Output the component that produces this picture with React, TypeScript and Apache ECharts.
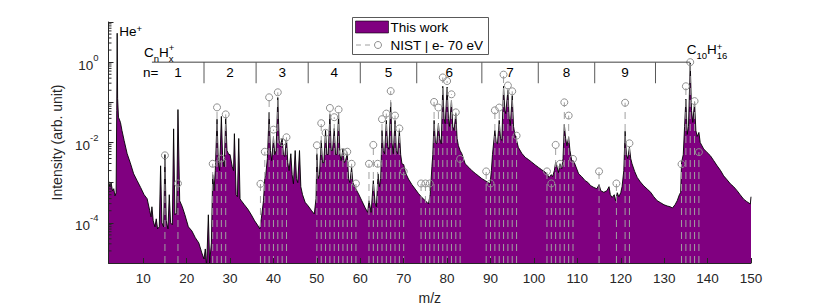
import React, { useEffect, useRef } from 'react';
import * as echarts from 'echarts';

const FONT = '"Liberation Sans", Arial, Helvetica, sans-serif';
const X_MIN = 2;
const X_MAX = 150;
const Y_MIN = 1e-5;
const Y_MAX = 10;

const spectrumLog10: [number, number][] = [
  [2.0,-2.95],[2.3,-3.1],[2.6,-3.0],[2.9,-3.2],[3.2,-3.15],[3.5,-3.33],[3.75,-3.25],[3.9,-1.2],[4.0,0.72],[4.1,-0.9],
  [4.3,-1.37],[4.76,-1.5],[5.1,-1.7],[5.6,-1.95],[6.3,-2.28],[7.0,-2.5],[7.8,-2.78],[8.6,-2.95],[9.4,-3.12],[10.2,-3.3],
  [10.9,-3.4],[11.5,-3.7],[11.8,-3.85],[12.0,-3.6],[12.3,-3.95],[12.7,-4.1],[13.0,-3.9],[13.3,-4.15],[13.7,-4.1],[14.0,-2.58],
  [14.3,-4.0],[14.7,-4.1],[15.0,-2.3],[15.3,-3.95],[15.7,-4.15],[16.0,-3.3],[16.3,-4.0],[16.7,-4.05],[17.0,-1.66],[17.3,-3.8],
  [17.7,-3.75],[18.0,-1.18],[18.4,-3.45],[19.0,-3.6],[19.6,-3.8],[20.4,-4.1],[21.2,-4.2],[22.0,-4.37],[22.8,-4.5],[23.5,-4.75],
  [24.0,-4.9],[24.3,-4.65],[24.6,-5.1],[25.0,-3.8],[25.3,-5.0],[25.7,-4.5],[26.0,-2.8],[26.3,-3.2],[26.6,-2.7],[27.0,-1.42],
  [27.3,-2.5],[27.6,-2.7],[28.0,-1.35],[28.3,-2.4],[28.65,-2.6],[29.0,-1.38],[29.3,-2.2],[29.7,-2.3],[30.0,-2.3],[30.5,-2.6],
  [30.8,-2.7],[31.0,-1.78],[31.4,-3.3],[31.7,-3.35],[32.0,-1.9],[32.3,-3.4],[32.6,-3.45],[33.3,-3.55],[34.1,-3.66],[34.9,-3.8],
  [35.66,-3.95],[36.3,-4.05],[36.85,-4.15],[37.2,-3.9],[37.7,-3.45],[38.0,-2.9],[38.2,-2.83],[38.6,-2.4],[39.0,-1.25],[39.3,-2.2],
  [39.6,-2.45],[40.0,-1.87],[40.3,-2.3],[40.6,-2.2],[41.0,-0.88],[41.3,-1.9],[41.6,-2.1],[42.0,-1.9],[42.3,-2.3],[42.6,-2.35],
  [43.0,-1.9],[43.3,-2.5],[43.6,-2.7],[44.0,-2.28],[44.3,-2.8],[44.6,-3.03],[45.0,-2.2],[45.3,-2.9],[45.6,-3.0],[46.0,-2.2],
  [46.3,-3.1],[46.7,-3.3],[47.3,-3.49],[48.0,-3.58],[48.8,-3.7],[49.4,-3.78],[49.8,-3.4],[50.0,-2.28],[50.3,-2.9],[50.6,-2.8],
  [51.0,-1.95],[51.3,-2.5],[51.6,-2.5],[52.0,-1.7],[52.3,-2.3],[52.6,-2.3],[53.0,-1.3],[53.3,-2.2],[53.6,-2.2],[54.0,-1.65],
  [54.3,-2.3],[54.6,-2.3],[55.0,-1.3],[55.3,-2.3],[55.6,-2.45],[56.0,-2.16],[56.3,-2.5],[56.6,-2.45],[57.0,-2.28],[57.3,-2.9],
  [57.6,-3.0],[58.0,-2.62],[58.3,-3.0],[58.8,-3.12],[59.6,-3.28],[60.35,-3.45],[61.1,-3.62],[61.7,-3.74],[62.0,-3.45],[62.5,-3.74],
  [63.0,-2.95],[63.4,-3.5],[63.7,-3.6],[64.1,-2.78],[64.4,-3.1],[64.7,-2.9],[65.0,-1.7],[65.3,-2.2],[65.6,-2.28],[66.0,-1.45],
  [66.3,-2.1],[66.6,-2.17],[67.0,-1.0],[67.3,-2.0],[67.6,-2.28],[68.0,-1.45],[68.3,-2.2],[68.6,-2.28],[69.0,-1.7],[69.3,-2.3],
  [69.6,-2.53],[70.0,-2.55],[70.4,-2.75],[71.1,-2.91],[71.9,-3.05],[72.65,-3.16],[73.4,-3.27],[74.2,-3.37],[75.0,-3.45],[75.7,-3.53],
  [76.1,-3.3],[76.5,-2.6],[76.7,-2.3],[77.0,-1.45],[77.3,-2.0],[77.6,-2.03],[78.0,-1.53],[78.3,-1.9],[78.65,-2.03],[79.0,-0.6],
  [79.3,-1.4],[79.56,-1.53],[80.0,-0.62],[80.3,-1.4],[80.55,-1.6],[81.0,-0.95],[81.3,-1.6],[81.6,-1.7],[82.0,-1.28],[82.3,-1.9],
  [82.6,-2.08],[83.0,-2.2],[83.4,-2.28],[84.15,-2.53],[85.0,-2.62],[85.7,-2.7],[86.5,-2.77],[87.2,-2.83],[88.0,-2.9],[88.8,-2.95],
  [89.5,-3.0],[89.9,-3.03],[90.2,-2.7],[90.45,-2.3],[91.0,-1.7],[91.3,-2.0],[91.6,-2.03],[92.0,-1.45],[92.3,-1.9],[92.6,-1.95],
  [93.0,-0.6],[93.3,-1.2],[93.5,-1.28],[94.0,-0.7],[94.3,-1.4],[94.55,-1.58],[95.0,-0.83],[95.3,-1.6],[95.6,-1.8],[95.9,-1.9],
  [96.4,-2.12],[97.2,-2.27],[98.0,-2.37],[98.8,-2.43],[99.5,-2.49],[100.3,-2.56],[101.05,-2.62],[101.8,-2.68],[102.6,-2.74],[103.1,-2.8],
  [103.5,-2.87],[104.0,-2.8],[104.3,-2.85],[104.7,-2.7],[105.0,-2.49],[105.3,-2.6],[105.66,-2.75],[106.0,-2.53],[106.4,-2.65],[106.7,-2.4],
  [107.0,-1.55],[107.3,-1.9],[107.6,-2.08],[108.0,-1.87],[108.3,-2.2],[108.7,-2.45],[109.0,-2.45],[109.3,-2.5],[110.3,-2.78],[111.0,-2.85],
  [111.8,-2.95],[112.5,-3.0],[113.0,-3.07],[113.8,-3.12],[114.5,-3.15],[115.0,-3.05],[115.4,-3.2],[116.1,-3.24],[116.8,-3.2],[117.3,-3.1],
  [117.6,-3.3],[118.0,-3.37],[118.5,-3.3],[118.8,-3.45],[119.2,-3.25],[119.55,-3.35],[120.0,-3.25],[120.3,-3.1],[120.7,-2.7],[121.0,-1.72],
  [121.3,-2.3],[121.6,-2.4],[122.0,-2.12],[122.3,-2.4],[122.6,-2.53],[123.2,-2.72],[123.8,-2.87],[124.5,-2.98],[125.3,-3.08],[126.1,-3.16],
  [126.9,-3.24],[127.6,-3.35],[128.4,-3.45],[129.2,-3.5],[129.95,-3.55],[130.7,-3.58],[131.4,-3.6],[131.9,-3.63],[132.5,-3.55],[133.0,-3.45],
  [133.5,-3.3],[133.8,-3.24],[134.0,-2.5],[134.4,-2.3],[134.7,-1.6],[135.0,-0.92],[135.3,-1.8],[135.6,-1.6],[136.0,-0.02],[136.3,-1.2],
  [136.6,-1.5],[137.0,-1.0],[137.3,-1.7],[137.6,-1.85],[138.0,-1.75],[138.3,-2.0],[139.1,-2.16],[139.9,-2.25],[140.65,-2.33],[141.4,-2.45],
  [142.2,-2.58],[143.0,-2.7],[143.7,-2.83],[144.5,-2.93],[145.25,-3.03],[146.0,-3.1],[146.8,-3.2],[147.5,-3.3],[148.3,-3.41],[149.0,-3.47],
  [149.85,-3.53],[150.0,-3.35],
];

// NIST | e- 70 eV stick spectrum: [m/z, log10 relative intensity]
const nistLog10: [number, number][] = [
  [15,-2.32],[18,-3.02],[26,-2.53],[27,-1.125],[28,-2.4],[29,-1.3],[37,-3.03],[38,-2.23],[39,-0.875],[40,-1.68],
  [41,-0.75],[42,-1.99],[43,-1.87],[50,-2.07],[51,-1.52],[52,-1.76],[53,-1.14],[54,-1.37],[55,-1.18],[56,-2.24],
  [57,-2.23],[58,-2.53],[59,-3.02],[62,-2.53],[63,-2.06],[64,-2.53],[65,-1.42],[66,-1.28],[67,-0.72],[68,-1.33],
  [69,-1.65],[70,-2.72],[74,-3.02],[75,-3.02],[76,-3.02],[77,-0.99],[78,-1.13],[79,-0.38],[80,-0.47],[81,-0.8],
  [82,-1.25],[83,-2.41],[89,-2.72],[90,-3.02],[91,-1.2],[92,-1.13],[93,-0.31],[94,-0.58],[95,-0.725],[96,-1.83],
  [103,-2.72],[104,-3.02],[105,-2.06],[106,-2.53],[107,-1.0],[108,-1.33],[109,-2.41],[115,-2.72],[119,-3.02],[121,-1.01],
  [122,-2.02],[134,-2.54],[135,-0.6],[136,0.0],[137,-0.97],[138,-2.24],
];

// CnHx+ group brackets (m/z boundaries; levels in log10)
const groupBounds = [12, 24, 36, 48, 60, 73, 88, 101, 114, 128];
const groupLabels = ['1', '2', '3', '4', '5', '6', '7', '8', '9'];
const bracketEnd = 136;
const bracketLevelLog = 0;
const dividerBottomLog = -0.525;
const groupLabelLevelLog = -0.26;
const nLabelPos: [number, number] = [9.95, -0.26];

const xTickValues = [10, 20, 30, 40, 50, 60, 70, 80, 90, 100, 110, 120, 130, 140, 150];
const yDecades = [-5, -4, -3, -2, -1, 0];
const yMinorMultipliers = [2, 3, 4, 5, 6, 7, 8, 9];

// formula annotations: anchor [m/z, log10 intensity]
const annotationAnchors: [number, number][] = [
  [4.5, 0.76],
  [10.15, 0.25],
  [135.2, 0.31],
];

type Part = { t: string; k: 'n' | 'sub' | 'sup' };
const formulas: { parts: Part[]; supDy: number }[] = [
  { parts: [{ t: 'He', k: 'n' }, { t: '+', k: 'sup' }], supDy: -3 },
  { parts: [{ t: 'C', k: 'n' }, { t: 'n', k: 'sub' }, { t: 'H', k: 'n' }, { t: 'x', k: 'sub' }, { t: '+', k: 'sup' }], supDy: -5 },
  { parts: [{ t: 'C', k: 'n' }, { t: '10', k: 'sub' }, { t: 'H', k: 'n' }, { t: '16', k: 'sub' }, { t: '+', k: 'sup' }], supDy: -3 },
];

const BASE_SIZE = 13.5;
const SMALL_SIZE = 9.5;
const TEXT_COLOR = '#000';
const AXIS_COLOR = '#262626';
const PURPLE = '#800080';
const NIST_GRAY = '#a0a0a0';

let measureCtx: CanvasRenderingContext2D | null = null;
function measure(text: string, size: number) {
  if (!measureCtx) measureCtx = document.createElement('canvas').getContext('2d');
  if (!measureCtx) return text.length * size * 0.6;
  measureCtx.font = `${size}px ${FONT}`;
  return measureCtx.measureText(text).width;
}

function txt(text: string, x: number, y: number, size: number, align = 'left') {
  return {
    type: 'text',
    style: {
      text, x, y, fill: TEXT_COLOR, fontSize: size, fontFamily: FONT,
      align, verticalAlign: 'middle', textAlign: align, textVerticalAlign: 'middle',
    },
  };
}

function formulaChildren(x0: number, yc: number, parts: Part[], supDy: number) {
  const children: any[] = [];
  let x = x0;
  let lastSub: number | null = null;
  for (const p of parts) {
    if (p.k === 'n') {
      children.push(txt(p.t, x, yc, BASE_SIZE));
      x += measure(p.t, BASE_SIZE);
      lastSub = null;
    } else if (p.k === 'sub') {
      children.push(txt(p.t, x, yc + 6, SMALL_SIZE));
      lastSub = x;
      x += measure(p.t, SMALL_SIZE);
    } else {
      const sx = lastSub !== null ? lastSub : x;
      children.push(txt(p.t, sx, yc + supDy, SMALL_SIZE));
      x = Math.max(x, sx + measure(p.t, SMALL_SIZE));
    }
  }
  return children;
}

const pow10 = (l: number) => Math.pow(10, l);

function buildOption() {
  const spectrum = spectrumLog10.map(([m, l]) => [m, pow10(l)]);
  const nist = nistLog10.map(([m, l]) => [m, pow10(l)]);
  const minorTicks: number[][] = [];
  yDecades.forEach((d) => yMinorMultipliers.forEach((m) => minorTicks.push([X_MIN, m * pow10(d)])));
  const dividers = groupBounds.slice(1).map((b) => [b, pow10(bracketLevelLog)]);
  const labelData = groupLabels.map((lab, i) => [(groupBounds[i] + groupBounds[i + 1]) / 2, pow10(groupLabelLevelLog), i]);
  const annData = annotationAnchors.map(([m, l], i) => [m, pow10(l), i]);

  return {
    animation: false,
    backgroundColor: '#fff',
    grid: { left: 108.5, right: 79, top: 22, bottom: 45, containLabel: false, outerBoundsMode: 'none' },
    xAxis: {
      type: 'value', min: X_MIN, max: X_MAX, z: 5,
      name: 'm/z', nameLocation: 'middle', nameGap: 28,
      nameTextStyle: { fontFamily: FONT, fontSize: 14, color: AXIS_COLOR },
      axisLine: { show: true, lineStyle: { color: AXIS_COLOR, width: 1 } },
      axisTick: { show: true, inside: true, length: 5, customValues: xTickValues, lineStyle: { color: AXIS_COLOR } },
      axisLabel: { customValues: xTickValues, margin: 8, fontFamily: FONT, fontSize: 13.5, color: AXIS_COLOR },
      splitLine: { show: false },
    },
    yAxis: {
      type: 'log', logBase: 10, min: Y_MIN, max: Y_MAX, z: 5,
      name: 'Intensity (arb. unit)', nameLocation: 'middle', nameGap: 32,
      nameTextStyle: { fontFamily: FONT, fontSize: 14, color: AXIS_COLOR },
      axisLine: { show: true, lineStyle: { color: AXIS_COLOR, width: 1 } },
      axisTick: { show: true, inside: true, length: 5, lineStyle: { color: AXIS_COLOR } },
      splitLine: { show: false },
      minorTick: { show: false },
      axisLabel: {
        margin: 10,
        formatter: (v: number) => {
          const e = Math.round(Math.log10(v));
          if (e > 0 || e % 2 !== 0) return '';
          return `{b|10}{s|${e}}`;
        },
        rich: {
          b: { fontFamily: FONT, fontSize: 13.5, color: AXIS_COLOR, lineHeight: 20, verticalAlign: 'bottom' },
          s: { fontFamily: FONT, fontSize: 9.5, color: AXIS_COLOR, verticalAlign: 'top' },
        },
      },
    },
    series: [
      {
        name: 'This work', type: 'line', data: spectrum, symbol: 'none', showSymbol: false, clip: true, z: 2,
        lineStyle: { color: '#000', width: 0.9 },
        areaStyle: { color: PURPLE, opacity: 1, origin: 'start' },
      },
      {
        name: 'NIST | e- 70 eV', type: 'custom', data: nist, z: 3,
        renderItem: (params: any, api: any) => {
          const x = api.value(0);
          const top = api.coord([x, api.value(1)]);
          const bot = api.coord([x, Y_MIN]);
          return {
            type: 'group',
            children: [
              { type: 'line', shape: { x1: bot[0], y1: bot[1], x2: top[0], y2: top[1] }, style: { stroke: NIST_GRAY, lineWidth: 1, lineDash: [7, 5] } },
              { type: 'circle', shape: { cx: top[0], cy: top[1], r: 3.5 }, style: { stroke: '#8f8f8f', fill: 'none', lineWidth: 1 } },
            ],
          };
        },
      },
      {
        type: 'custom', data: minorTicks, z: 6, silent: true,
        renderItem: (params: any, api: any) => {
          const p = api.coord([api.value(0), api.value(1)]);
          return { type: 'line', shape: { x1: p[0], y1: p[1], x2: p[0] + 3, y2: p[1] }, style: { stroke: AXIS_COLOR, lineWidth: 1 } };
        },
      },
      {
        type: 'custom', data: dividers, z: 6, silent: true,
        renderItem: (params: any, api: any) => {
          const x = api.value(0);
          const a = api.coord([x, pow10(bracketLevelLog)]);
          const b = api.coord([x, pow10(dividerBottomLog)]);
          const children: any[] = [
            { type: 'line', shape: { x1: a[0], y1: a[1], x2: b[0], y2: b[1] }, style: { stroke: '#595959', lineWidth: 1 } },
          ];
          if (params.dataIndex === 0) {
            const s = api.coord([groupBounds[0], pow10(bracketLevelLog)]);
            const e = api.coord([bracketEnd, pow10(bracketLevelLog)]);
            children.push({ type: 'line', shape: { x1: s[0], y1: s[1], x2: e[0], y2: e[1] }, style: { stroke: '#404040', lineWidth: 1 } });
            const np = api.coord([nLabelPos[0], pow10(nLabelPos[1])]);
            children.push(txt('n=', np[0], np[1], BASE_SIZE));
          }
          return { type: 'group', children };
        },
      },
      {
        type: 'custom', data: labelData, z: 6, silent: true,
        renderItem: (params: any, api: any) => {
          const p = api.coord([api.value(0), api.value(1)]);
          return txt(groupLabels[params.dataIndex], p[0], p[1], BASE_SIZE, 'center');
        },
      },
      {
        type: 'custom', data: annData, z: 6, silent: true,
        renderItem: (params: any, api: any) => {
          const p = api.coord([api.value(0), api.value(1)]);
          const f = formulas[params.dataIndex];
          return { type: 'group', children: formulaChildren(p[0], p[1], f.parts, f.supDy) };
        },
      },
    ],
    graphic: [
      {
        type: 'group', left: 352, top: 17, z: 100,
        children: [
          { type: 'rect', shape: { x: 0.5, y: 0.5, width: 136, height: 37 }, style: { fill: '#fff', stroke: '#595959', lineWidth: 1 } },
          { type: 'rect', shape: { x: 3.5, y: 4, width: 33, height: 12 }, style: { fill: PURPLE, stroke: '#000', lineWidth: 0.6 } },
          { type: 'text', style: { text: 'This work', x: 38.5, y: 10.5, fill: TEXT_COLOR, fontSize: BASE_SIZE, fontFamily: FONT, verticalAlign: 'middle', textVerticalAlign: 'middle' } },
          { type: 'line', shape: { x1: 4, y1: 28, x2: 22, y2: 28 }, style: { stroke: NIST_GRAY, lineWidth: 1, lineDash: [5, 4] } },
          { type: 'circle', shape: { cx: 26, cy: 28, r: 3.5 }, style: { stroke: '#8f8f8f', fill: 'none', lineWidth: 1 } },
          { type: 'text', style: { text: 'NIST | e- 70 eV', x: 38.5, y: 28.5, fill: TEXT_COLOR, fontSize: BASE_SIZE, fontFamily: FONT, verticalAlign: 'middle', textVerticalAlign: 'middle' } },
        ],
      },
    ],
  };
}

export default function App() {
  const ref = useRef<HTMLDivElement>(null);
  useEffect(() => {
    if (!ref.current) return;
    const chart = echarts.init(ref.current, null, { renderer: 'svg' });
    chart.setOption(buildOption() as any);
    return () => chart.dispose();
  }, []);
  return (
    <div
      ref={ref}
      style={{ position: 'absolute', left: 0, top: 0, width: 830, height: 308, background: '#fff' }}
    />
  );
}
